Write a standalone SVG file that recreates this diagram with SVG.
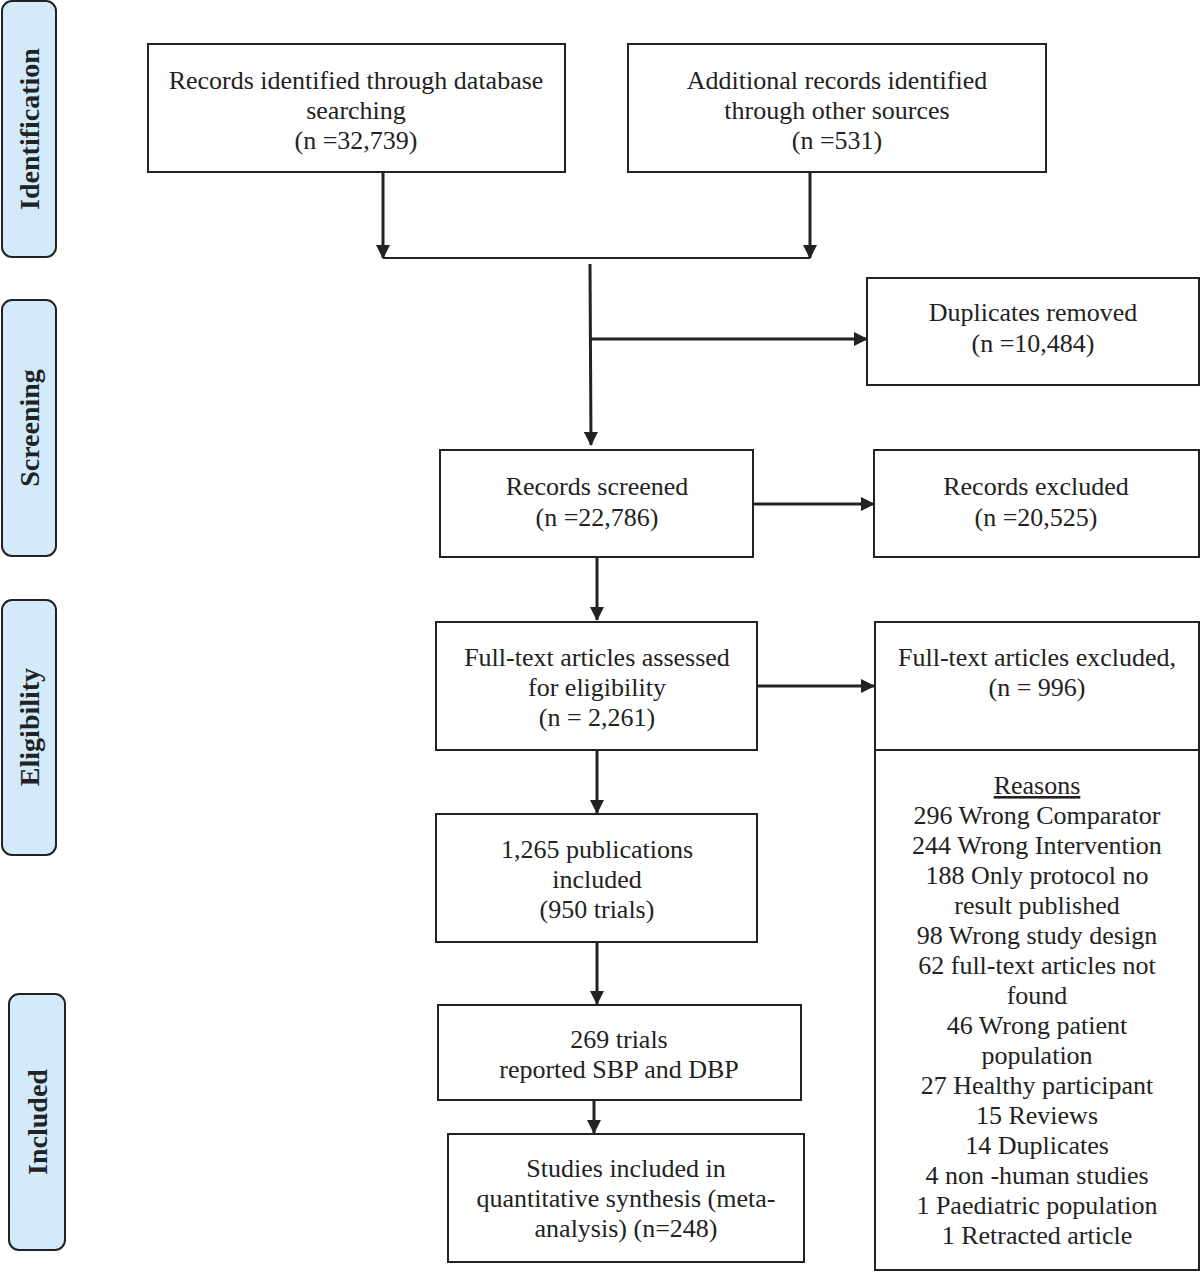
<svg xmlns="http://www.w3.org/2000/svg" width="1200" height="1272" viewBox="0 0 1200 1272">
<style>
.box{fill:#fff;stroke:#222;stroke-width:2}
.side{fill:#d3eafb;stroke:#222;stroke-width:2}
.t{font-family:"Liberation Serif","Times New Roman",serif;font-size:26px;fill:#222;text-anchor:middle}
.s{font-family:"Liberation Serif","Times New Roman",serif;font-size:28px;font-weight:bold;fill:#222;text-anchor:middle}
.c{stroke:#222;stroke-width:3;fill:none}
</style>
<defs>
<marker id="a" markerWidth="14" markerHeight="14" refX="13" refY="7" orient="auto" markerUnits="userSpaceOnUse">
<path d="M0,0 L14,7 L0,14 Z" fill="#222"/>
</marker>
</defs>
<rect width="1200" height="1272" fill="#fff"/>
<g id="side-identification"><rect class="side" x="2" y="1" width="54" height="256" rx="10"/><text class="s" transform="translate(39,129) rotate(-90)">Identification</text></g>
<g id="side-screening"><rect class="side" x="2" y="300" width="54" height="256" rx="10"/><text class="s" transform="translate(39,428) rotate(-90)">Screening</text></g>
<g id="side-eligibility"><rect class="side" x="2" y="600" width="54" height="255" rx="10"/><text class="s" transform="translate(39,727) rotate(-90)">Eligibility</text></g>
<g id="side-included"><rect class="side" x="9" y="994" width="56" height="256" rx="10"/><text class="s" transform="translate(47,1122) rotate(-90)">Included</text></g>

<g id="n-db"><rect class="box" x="148" y="44" width="417" height="128"/>
<text class="t" x="356" y="89">Records identified through database</text>
<text class="t" x="356" y="119">searching</text>
<text class="t" x="356" y="149">(n =32,739)</text></g>
<g id="n-other"><rect class="box" x="628" y="44" width="418" height="128"/>
<text class="t" x="837" y="89">Additional records identified</text>
<text class="t" x="837" y="119">through other sources</text>
<text class="t" x="837" y="149">(n =531)</text></g>
<g id="n-dup"><rect class="box" x="867" y="278" width="332" height="107"/>
<text class="t" x="1033" y="321">Duplicates removed</text>
<text class="t" x="1033" y="352">(n =10,484)</text></g>
<g id="n-screened"><rect class="box" x="440" y="450" width="313" height="107"/>
<text class="t" x="597" y="495">Records screened</text>
<text class="t" x="597" y="526">(n =22,786)</text></g>
<g id="n-excluded"><rect class="box" x="874" y="450" width="325" height="107"/>
<text class="t" x="1036" y="495">Records excluded</text>
<text class="t" x="1036" y="526">(n =20,525)</text></g>
<g id="n-fulltext"><rect class="box" x="436" y="622" width="321" height="128"/>
<text class="t" x="597" y="666">Full-text articles assessed</text>
<text class="t" x="597" y="696">for eligibility</text>
<text class="t" x="597" y="726">(n = 2,261)</text></g>
<g id="n-ftexcluded"><rect class="box" x="875" y="622" width="324" height="128"/>
<text class="t" x="1037" y="666">Full-text articles excluded,</text>
<text class="t" x="1037" y="696">(n = 996)</text></g>
<g id="n-reasons"><rect class="box" x="875" y="750" width="324" height="520"/>
<text class="t" x="1037" y="794" text-decoration="underline">Reasons</text>
<text class="t" x="1037" y="824">296 Wrong Comparator</text>
<text class="t" x="1037" y="854">244 Wrong Intervention</text>
<text class="t" x="1037" y="884">188 Only protocol no</text>
<text class="t" x="1037" y="914">result published</text>
<text class="t" x="1037" y="944">98 Wrong study design</text>
<text class="t" x="1037" y="974">62 full-text articles not</text>
<text class="t" x="1037" y="1004">found</text>
<text class="t" x="1037" y="1034">46 Wrong patient</text>
<text class="t" x="1037" y="1064">population</text>
<text class="t" x="1037" y="1094">27 Healthy participant</text>
<text class="t" x="1037" y="1124">15 Reviews</text>
<text class="t" x="1037" y="1154">14 Duplicates</text>
<text class="t" x="1037" y="1184">4 non -human studies</text>
<text class="t" x="1037" y="1214">1 Paediatric population</text>
<text class="t" x="1037" y="1244">1 Retracted article</text></g>
<g id="n-pubs"><rect class="box" x="436" y="814" width="321" height="128"/>
<text class="t" x="597" y="858">1,265 publications</text>
<text class="t" x="597" y="888">included</text>
<text class="t" x="597" y="918">(950 trials)</text></g>
<g id="n-269"><rect class="box" x="438" y="1005" width="363" height="95"/>
<text class="t" x="619" y="1048">269 trials</text>
<text class="t" x="619" y="1078">reported SBP and DBP</text></g>
<g id="n-studies"><rect class="box" x="448" y="1134" width="356" height="128"/>
<text class="t" x="626" y="1177">Studies included in</text>
<text class="t" x="626" y="1207">quantitative synthesis (meta-</text>
<text class="t" x="626" y="1237">analysis) (n=248)</text></g>

<g id="connectors">
<line class="c" x1="383" y1="172" x2="383" y2="258" marker-end="url(#a)"/>
<line class="c" x1="810" y1="172" x2="810" y2="258" marker-end="url(#a)"/>
<line class="c" x1="383" y1="258" x2="810" y2="258" style="stroke-width:2"/>
<line class="c" x1="590" y1="264" x2="591" y2="445" marker-end="url(#a)"/>
<line class="c" x1="590" y1="339" x2="867" y2="339" marker-end="url(#a)"/>
<line class="c" x1="753" y1="504" x2="874" y2="504" marker-end="url(#a)"/>
<line class="c" x1="597" y1="557" x2="597" y2="620" marker-end="url(#a)"/>
<line class="c" x1="757" y1="686" x2="874" y2="686" marker-end="url(#a)"/>
<line class="c" x1="597" y1="750" x2="597" y2="813" marker-end="url(#a)"/>
<line class="c" x1="597" y1="942" x2="597" y2="1004" marker-end="url(#a)"/>
<line class="c" x1="594" y1="1100" x2="594" y2="1133" marker-end="url(#a)"/>
</g>
</svg>
